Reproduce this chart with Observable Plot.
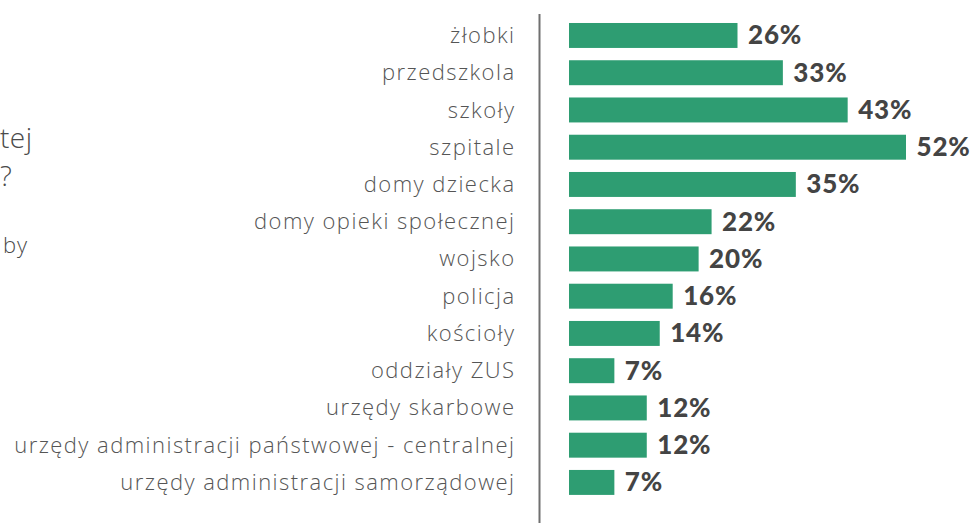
<!DOCTYPE html>
<html>
<head>
<meta charset="utf-8">
<script src="https://cdn.jsdelivr.net/npm/d3@7"></script>
<script src="https://cdn.jsdelivr.net/npm/@observablehq/plot@0.6"></script>
<style>
  html, body { margin: 0; padding: 0; background: #fff; }
  #wrap { position: relative; width: 971px; height: 523px; overflow: hidden; }
  .frag { position: absolute; font-family: "Open Sans", sans-serif; font-weight: 300; color: #4a4a4a; white-space: nowrap; }
  .t1 { font-size: 28px; letter-spacing: 0.5px; }
  .t2 { font-size: 22px; letter-spacing: 1px; }
  #chart g[aria-label="y-axis tick label"] text { font-weight: 300; font-family: "Open Sans", sans-serif; letter-spacing: 1.45px; }
  #chart g[aria-label="text"] text { letter-spacing: 0.8px; }
</style>
</head>
<body>
<div id="wrap">
  <div id="chart"></div>
  <div class="frag t1" style="left:0px; top:118px;">tej</div>
  <div class="frag t1" style="left:0px; top:156px;">?</div>
  <div class="frag t2" style="left:3px; top:229px;">by</div>
</div>
<script>
const categories = [
  "żłobki",
  "przedszkola",
  "szkoły",
  "szpitale",
  "domy dziecka",
  "domy opieki społecznej",
  "wojsko",
  "policja",
  "kościoły",
  "oddziały ZUS",
  "urzędy skarbowe",
  "urzędy administracji państwowej - centralnej",
  "urzędy administracji samorządowej"
];
const values = [26, 33, 43, 52, 35, 22, 20, 16, 14, 7, 12, 12, 7];

const data = categories.map((c, i) => ({ category: c, value: values[i] }));

const chart = Plot.plot({
  width: 971,
  height: 523,
  marginLeft: 569,
  marginRight: 65,
  marginTop: 14,
  marginBottom: 0,
  style: { fontFamily: "Lato, sans-serif", background: "#fff" },
  x: { domain: [0, 52], axis: null },
  y: { domain: categories, range: [10.7, 507.2], padding: 0.33, round: false, axis: null },
  marks: [
    Plot.ruleX([0], { dx: -30, stroke: "#707070", strokeWidth: 2 }),
    Plot.barX(data, { y: "category", x: "value", fill: "#2e9d72" }),
    Plot.text(data, {
      y: "category", x: "value", text: d => `${d.value}%`,
      textAnchor: "start", dx: 10, fontSize: 26, fontWeight: 900, fill: "#444"
    }),
    Plot.axisY({ tickSize: 0, tickPadding: 54, fontSize: 22, fill: "#555", label: null })
  ]
});
document.getElementById("chart").appendChild(chart);
</script>
</body>
</html>
